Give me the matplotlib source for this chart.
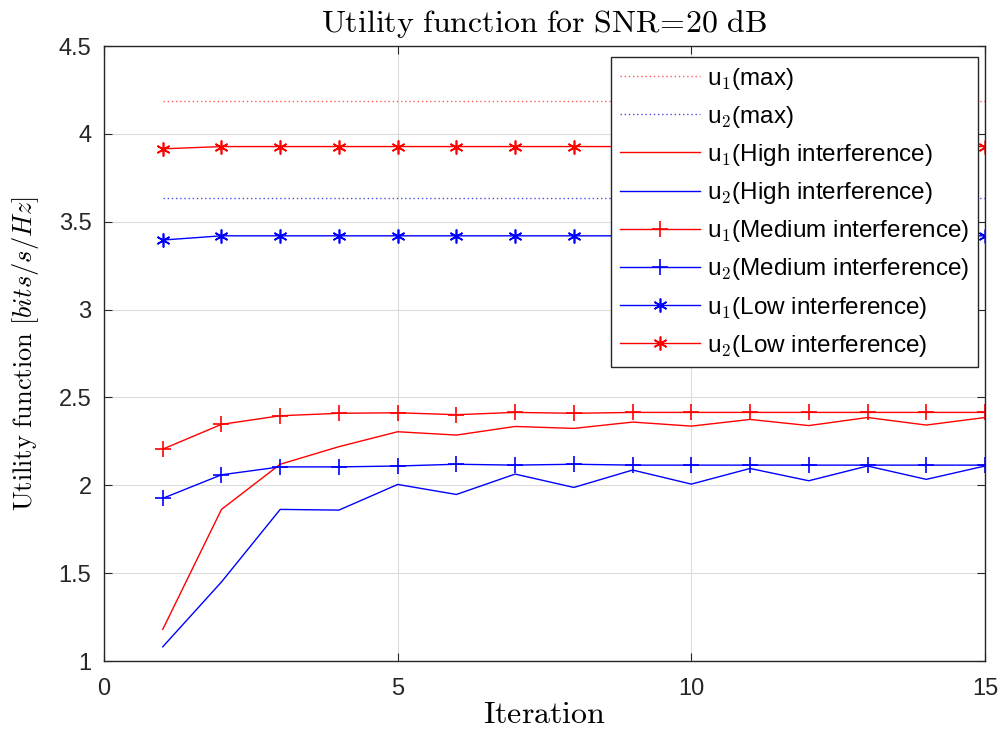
import matplotlib
matplotlib.use("Agg")
import matplotlib.pyplot as plt
import numpy as np

plt.rcParams["font.family"] = ["Liberation Sans", "DejaVu Sans"]
plt.rcParams["mathtext.fontset"] = "cm"

iterations = np.arange(1, 16)

u1_max = 4.19
u2_max = 3.635

u1_high = [1.18, 1.863, 2.12, 2.22, 2.305, 2.286, 2.335, 2.324, 2.36, 2.337,
           2.375, 2.34, 2.386, 2.343, 2.386]
u2_high = [1.081, 1.45, 1.863, 1.859, 2.005, 1.948, 2.064, 1.988, 2.087, 2.007,
           2.096, 2.026, 2.11, 2.034, 2.11]
u1_medium = [2.206, 2.347, 2.396, 2.41, 2.413, 2.402, 2.415, 2.41, 2.415, 2.415,
             2.415, 2.415, 2.415, 2.415, 2.415]
u2_medium = [1.926, 2.06, 2.105, 2.105, 2.11, 2.12, 2.115, 2.12, 2.115, 2.115,
             2.115, 2.115, 2.115, 2.115, 2.115]
u1_low = [3.396, 3.42, 3.42, 3.42, 3.42, 3.42, 3.42, 3.42, 3.42, 3.42,
          3.42, 3.42, 3.42, 3.42, 3.42]
u2_low = [3.915, 3.928, 3.928, 3.928, 3.928, 3.928, 3.928, 3.928, 3.928, 3.928,
          3.928, 3.928, 3.928, 3.928, 3.928]

RED = "#ff0000"
BLUE = "#0000ff"
ASTERISK = (6, 2, 0)

fig = plt.figure(figsize=(10, 7.31), dpi=100)
ax = fig.add_axes([0.104, 0.0957, 0.881, 0.8413])

sub = lambda n: r"u$_{\mathsf{%d}}$" % n

ax.plot(iterations, np.full(len(iterations), u1_max), color="#ff5a5a", ls=(0, (1, 2)),
        lw=1.0, label=sub(1) + "(max)")
ax.plot(iterations, np.full(len(iterations), u2_max), color="#4a4ae0", ls=(0, (1, 2)),
        lw=1.0, label=sub(2) + "(max)")
ax.plot(iterations, u1_high, color=RED, lw=1.0, label=sub(1) + "(High interference)")
ax.plot(iterations, u2_high, color=BLUE, lw=1.0, label=sub(2) + "(High interference)")
ax.plot(iterations, u1_medium, color=RED, lw=1.0, marker="+", ms=12, mew=1.2,
        label=sub(1) + "(Medium interference)")
ax.plot(iterations, u2_medium, color=BLUE, lw=1.0, marker="+", ms=12, mew=1.2,
        label=sub(2) + "(Medium interference)")
ax.plot(iterations, u1_low, color=BLUE, lw=1.0, marker=ASTERISK, ms=10, mew=1.2,
        label=sub(1) + "(Low interference)")
ax.plot(iterations, u2_low, color=RED, lw=1.0, marker=ASTERISK, ms=10, mew=1.2,
        label=sub(2) + "(Low interference)")

ax.set_xlim(0, 15)
ax.set_ylim(1, 4.5)
ax.set_xticks([0, 5, 10, 15])
ax.set_yticks(np.arange(1, 4.51, 0.5))
ax.set_yticklabels(["1", "1.5", "2", "2.5", "3", "3.5", "4", "4.5"])
ax.grid(True, color="#dcdcdc", lw=0.8)
ax.set_axisbelow(True)
ax.tick_params(direction="in", top=True, right=True, length=6, labelsize=17,
               colors="#262626")
ax.tick_params(axis="x", pad=12)
ax.tick_params(axis="y", pad=9)
for s in ax.spines.values():
    s.set_color("#262626")
    s.set_linewidth(1.0)

ax.set_title(r"$\mathrm{Utility\ function\ for\ SNR}\!=\!\mathrm{20\ dB}$", fontsize=23, pad=10)
ax.set_xlabel(r"$\mathrm{Iteration}$", fontsize=23, labelpad=0)
ax.set_ylabel(r"$\mathrm{Utility\ function\ }[bits/s/Hz]$", fontsize=19, labelpad=13)

leg = ax.legend(loc="upper right", bbox_to_anchor=(0.992, 0.982), fontsize=17.5,
                handlelength=3.3, labelspacing=0.5, borderaxespad=0.0,
                fancybox=False, framealpha=1, edgecolor="#262626",
                borderpad=0.35, handletextpad=0.3)
leg.get_frame().set_linewidth(1.0)

fig.savefig("out.png", dpi=100)
